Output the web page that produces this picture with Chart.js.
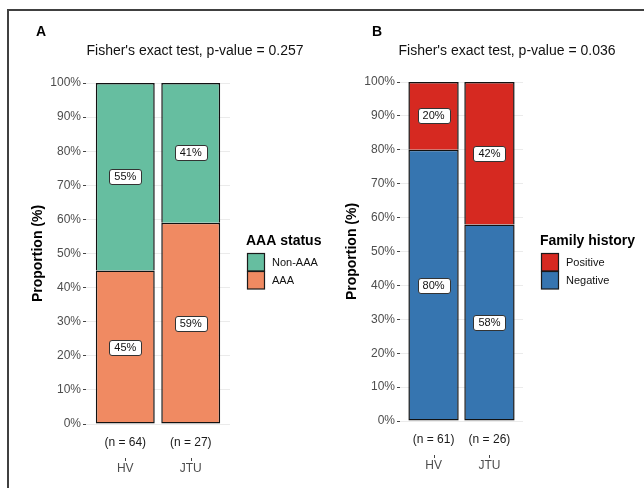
<!DOCTYPE html>
<html>
<head>
<meta charset="utf-8">
<script src="https://cdn.jsdelivr.net/npm/chart.js@4.4.1/dist/chart.umd.min.js"></script>
<style>
  html, body { margin: 0; padding: 0; background: #fff; width: 644px; height: 488px; overflow: hidden; }
  #frame { position: absolute; left: 7px; top: 9px; width: 700px; height: 600px; border: 2px solid #404040; box-sizing: border-box; }
  canvas { position: absolute; top: 0; }
  #panelA { left: 0; }
  #panelB { left: 322px; }
</style>
</head>
<body>
<div id="frame"></div>
<canvas id="panelA" width="322" height="488"></canvas>
<canvas id="panelB" width="322" height="488"></canvas>
<script>
// ---- data ----
const categories = ['HV', 'JTU'];
const yTickLabels = ['0%', '10%', '20%', '30%', '40%', '50%', '60%', '70%', '80%', '90%', '100%'];

const aaaGroupSizes = ['(n = 64)', '(n = 27)'];
const aaaPositive = [45, 59];      // AAA
const aaaNegative = [55, 41];      // Non-AAA

const familyGroupSizes = ['(n = 61)', '(n = 26)'];
const familyNegative = [80, 58];
const familyPositive = [20, 42];

// ---- drawing ----
const FONT = '"Liberation Sans", Arial, Helvetica, sans-serif';

function roundRect(ctx, x, y, w, h, r) {
  ctx.beginPath();
  ctx.moveTo(x + r, y);
  ctx.lineTo(x + w - r, y);
  ctx.arcTo(x + w, y, x + w, y + r, r);
  ctx.lineTo(x + w, y + h - r);
  ctx.arcTo(x + w, y + h, x + w - r, y + h, r);
  ctx.lineTo(x + r, y + h);
  ctx.arcTo(x, y + h, x, y + h - r, r);
  ctx.lineTo(x, y + r);
  ctx.arcTo(x, y, x + r, y, r);
  ctx.closePath();
}

function makePanel(canvasId, p) {
  // the bottom segment carries the full outline; upper segments share its top edge
  const datasets = p.series.map((s, k) => ({
    label: s.label,
    data: categories.map((c, i) => ({ x: i + 1, y: s.values[i] })),
    backgroundColor: s.color,
    borderColor: '#111111',
    borderWidth: { top: 1.5, left: 1.5, right: 1.5, bottom: k === 0 ? 1.5 : 0 },
    borderSkipped: false,
    inflateAmount: 0,
    barPercentage: 0.9,
    categoryPercentage: 1
  }));

  const decorations = {
    id: 'decorations',
    afterDatasetsDraw(chart) {
      const ctx = chart.ctx;
      ctx.save();
      ctx.font = '11px ' + FONT;
      ctx.textAlign = 'center';
      ctx.textBaseline = 'middle';
      chart.data.datasets.forEach((ds, di) => {
        chart.getDatasetMeta(di).data.forEach((bar, i) => {
          const text = ds.data[i].y + '%';
          const cy = (bar.y + bar.base) / 2;
          const w = ctx.measureText(text).width + 10;
          const h = 15;
          roundRect(ctx, Math.round(bar.x - w / 2) + 0.5, Math.round(cy - h / 2) + 0.5, Math.round(w), h, 2.5);
          ctx.fillStyle = '#ffffff';
          ctx.fill();
          ctx.strokeStyle = '#333333';
          ctx.lineWidth = 1;
          ctx.stroke();
          ctx.fillStyle = '#111111';
          ctx.fillText(text, bar.x, cy + 0.5);
        });
      });
      ctx.restore();
    },
    afterDraw(chart) {
      const ctx = chart.ctx;
      const area = chart.chartArea;
      const xs = chart.scales.x;
      ctx.save();
      // panel letter and heading
      ctx.fillStyle = '#000000';
      ctx.textBaseline = 'middle';
      ctx.textAlign = 'left';
      ctx.font = 'bold 14px ' + FONT;
      ctx.fillText(p.letter, p.letterX, 32);
      ctx.textAlign = 'center';
      ctx.font = '14px ' + FONT;
      ctx.fillStyle = '#111111';
      ctx.fillText(p.title, p.titleX, 51);

      // group sizes under the bars and x tick marks
      ctx.font = '12px ' + FONT;
      ctx.fillStyle = '#1a1a1a';
      categories.forEach((c, i) => {
        const x = xs.getPixelForValue(i + 1);
        ctx.fillText(p.groupSizes[i], x, area.bottom + 18.5);
        ctx.strokeStyle = '#444444';
        ctx.lineWidth = 1;
        ctx.beginPath();
        ctx.moveTo(Math.round(x) + 0.5, area.bottom + 34);
        ctx.lineTo(Math.round(x) + 0.5, area.bottom + 37);
        ctx.stroke();
      });

      // legend
      ctx.textAlign = 'left';
      ctx.font = 'bold 14px ' + FONT;
      ctx.fillStyle = '#000000';
      ctx.fillText(p.legendTitle, p.legendX, 241);
      const items = p.series.slice().reverse();
      items.forEach((s, k) => {
        const top = 253.5 + k * 18;
        ctx.fillStyle = s.color;
        ctx.fillRect(p.legendX + 1.5, top, 17, 17.5);
        ctx.strokeStyle = '#1a1a1a';
        ctx.lineWidth = 1.2;
        ctx.strokeRect(p.legendX + 1.5, top, 17, 17.5);
        ctx.fillStyle = '#111111';
        ctx.font = '11px ' + FONT;
        ctx.fillText(s.label, p.legendX + 26, top + 9);
      });
      ctx.restore();
    }
  };

  return new Chart(document.getElementById(canvasId), {
    type: 'bar',
    data: { datasets },
    options: {
      responsive: false,
      animation: false,
      layout: { padding: { left: 0, top: p.area.top, right: 322 - p.area.right, bottom: 0 } },
      plugins: { legend: { display: false }, tooltip: { enabled: false } },
      scales: {
        x: {
          type: 'linear',
          min: 0.4,
          max: 2.6,
          stacked: true,
          offset: false,
          grid: { display: false, drawTicks: false },
          border: { display: false },
          afterBuildTicks: s => { s.ticks = categories.map((c, i) => ({ value: i + 1 })); },
          afterFit: s => { s.height = 488 - p.area.bottom; },
          ticks: {
            callback: v => categories[v - 1],
            color: '#4d4d4d',
            font: { family: FONT, size: 12 },
            padding: 37,
            maxRotation: 0,
            autoSkip: false
          }
        },
        y: {
          min: 0,
          max: 100,
          stacked: true,
          afterFit: s => { s.width = p.area.left; },
          border: { display: false },
          grid: {
            color: ctx => (ctx.tick && ctx.tick.value % 10 === 0) ? '#ebebeb' : '#f4f4f4',
            tickColor: ctx => (ctx.tick && ctx.tick.value % 10 === 0) ? '#444444' : 'rgba(0,0,0,0)',
            tickLength: 3,
            lineWidth: 1
          },
          ticks: {
            stepSize: 5,
            callback: v => (v % 10 === 0 ? yTickLabels[v / 10] : ''),
            color: '#4d4d4d',
            font: { family: FONT, size: 12 },
            padding: 2
          },
          title: {
            display: true,
            text: 'Proportion (%)',
            color: '#000000',
            font: { family: FONT, size: 14, weight: 'bold' },
            padding: { top: p.yTitlePad, bottom: 0 }
          }
        }
      }
    },
    plugins: [decorations]
  });
}

makePanel('panelA', {
  letter: 'A',
  letterX: 36,
  title: "Fisher's exact test, p-value = 0.257",
  titleX: 195,
  legendTitle: 'AAA status',
  legendX: 246,
  yTitlePad: 30,
  area: { left: 86, right: 230, top: 83, bottom: 424 },
  groupSizes: aaaGroupSizes,
  series: [
    { label: 'AAA', values: aaaPositive, color: '#F08A62' },
    { label: 'Non-AAA', values: aaaNegative, color: '#66BEA0' }
  ]
});

makePanel('panelB', {
  letter: 'B',
  letterX: 50,
  title: "Fisher's exact test, p-value = 0.036",
  titleX: 185,
  legendTitle: 'Family history',
  legendX: 218,
  yTitlePad: 22,
  area: { left: 78, right: 201, top: 82, bottom: 421 },
  groupSizes: familyGroupSizes,
  series: [
    { label: 'Negative', values: familyNegative, color: '#3675B0' },
    { label: 'Positive', values: familyPositive, color: '#D62921' }
  ]
});
</script>
</body>
</html>
